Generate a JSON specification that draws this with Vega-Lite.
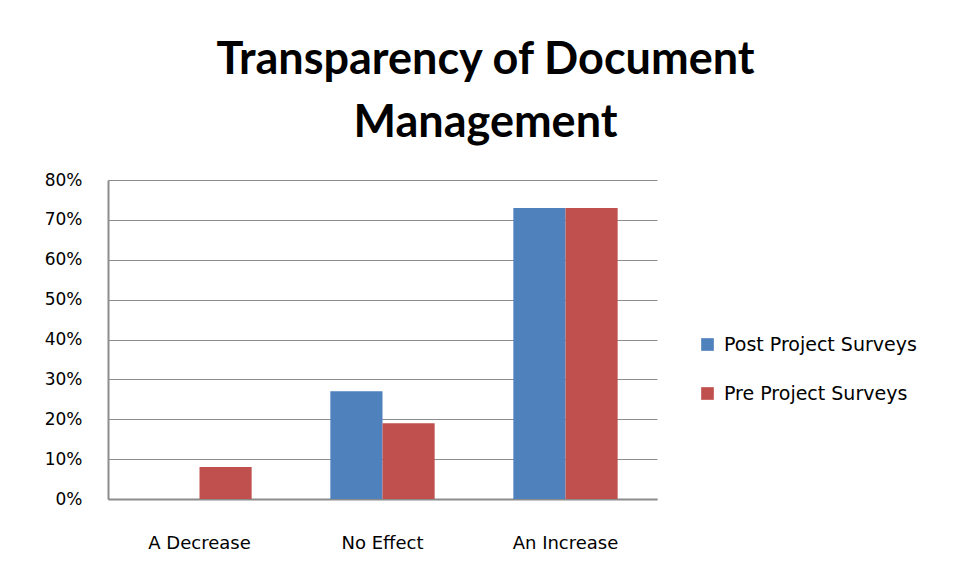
{
  "$schema": "https://vega.github.io/schema/vega-lite/v6.json",
  "width": 549,
  "height": 319,
  "autosize": {"type": "none"},
  "padding": {"left": 108, "top": 180, "right": 302, "bottom": 83},
  "background": "white",
  "title": {
    "text": ["Transparency of Document", "Management"],
    "font": "Lato",
    "fontSize": 45,
    "fontWeight": "bold",
    "color": "#000000",
    "lineHeight": 63,
    "anchor": "middle",
    "dx": 103,
    "offset": 25
  },
  "data": {
    "values": [
      {"category": "A Decrease", "series": "Post Project Surveys", "value": 0.0},
      {"category": "A Decrease", "series": "Pre Project Surveys", "value": 0.08},
      {"category": "No Effect", "series": "Post Project Surveys", "value": 0.27},
      {"category": "No Effect", "series": "Pre Project Surveys", "value": 0.19},
      {"category": "An Increase", "series": "Post Project Surveys", "value": 0.73},
      {"category": "An Increase", "series": "Pre Project Surveys", "value": 0.73}
    ]
  },
  "mark": {"type": "bar"},
  "encoding": {
    "x": {
      "field": "category",
      "type": "nominal",
      "sort": ["A Decrease", "No Effect", "An Increase"],
      "scale": {"paddingInner": 0.43, "paddingOuter": 0.215},
      "axis": {
        "title": null,
        "labelAngle": 0,
        "ticks": false,
        "labelPadding": 35,
        "labelFont": "DejaVu Sans",
        "labelFontSize": 18,
        "labelColor": "#000000",
        "domainColor": "#8c8c8c",
        "domainWidth": 2,
        "grid": false
      }
    },
    "xOffset": {
      "field": "series",
      "type": "nominal",
      "sort": ["Post Project Surveys", "Pre Project Surveys"],
      "scale": {"paddingInner": 0, "paddingOuter": 0}
    },
    "y": {
      "field": "value",
      "type": "quantitative",
      "scale": {"domain": [0, 0.8], "nice": false},
      "axis": {
        "title": null,
        "values": [0, 0.1, 0.2, 0.3, 0.4, 0.5, 0.6, 0.7, 0.8],
        "format": ".0%",
        "ticks": false,
        "labelPadding": 26,
        "labelFont": "DejaVu Sans",
        "labelFontSize": 17,
        "labelColor": "#000000",
        "domainColor": "#8c8c8c",
        "domainWidth": 2,
        "grid": true,
        "gridColor": "#8c8c8c",
        "gridWidth": 1.2
      }
    },
    "color": {
      "field": "series",
      "type": "nominal",
      "sort": ["Post Project Surveys", "Pre Project Surveys"],
      "scale": {"range": ["#4F81BD", "#C0504D"]},
      "legend": {
        "title": null,
        "orient": "none",
        "legendX": 590,
        "legendY": 155,
        "symbolType": "square",
        "symbolSize": 160,
        "symbolStrokeWidth": 0,
        "labelFont": "DejaVu Sans",
        "labelFontSize": 19,
        "labelColor": "#000000",
        "labelOffset": 7,
        "labelLimit": 400,
        "rowPadding": 29
      }
    }
  },
  "config": {
    "view": {"stroke": null}
  }
}
